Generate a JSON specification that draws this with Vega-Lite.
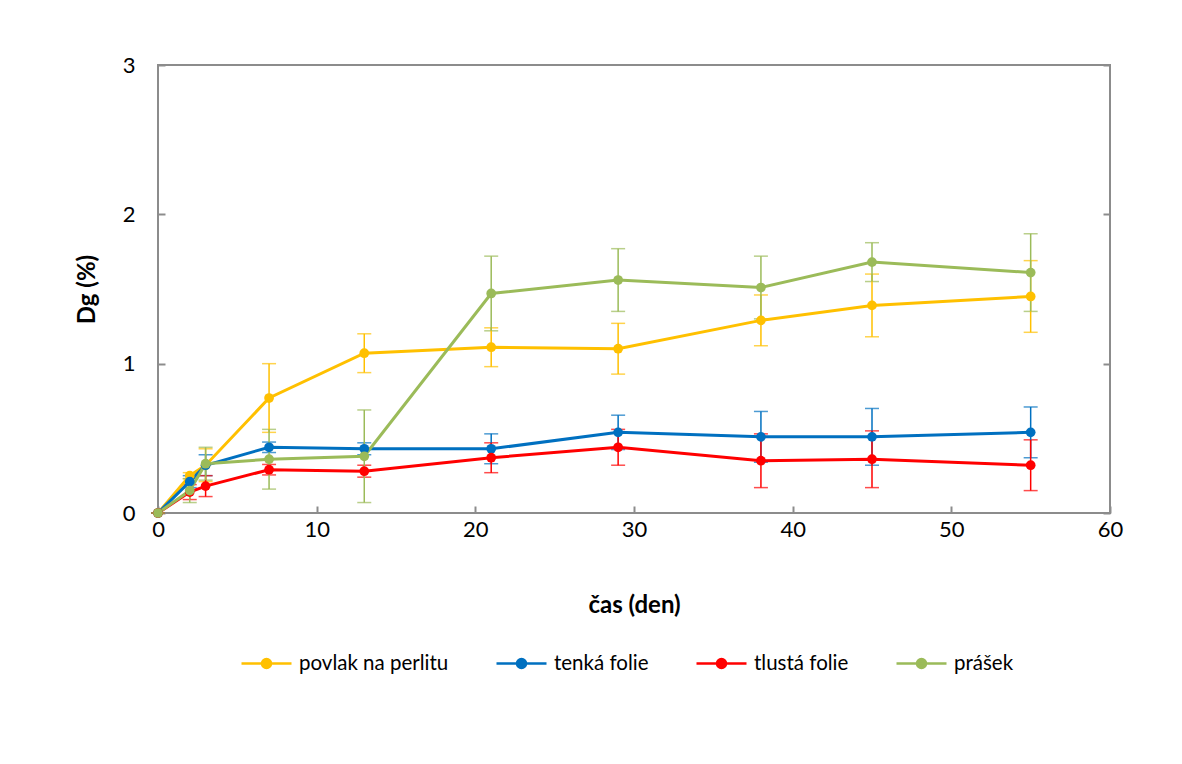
{
  "$schema": "https://vega.github.io/schema/vega-lite/v6.json",
  "width": 952,
  "height": 448,
  "autosize": {"type": "none"},
  "padding": {"left": 158, "top": 65, "right": 72, "bottom": 251},
  "background": "white",
  "config": {
    "font": "Lato",
    "view": {"stroke": "#8c8c8c", "strokeWidth": 2},
    "axis": {
      "grid": false,
      "domain": false,
      "tickColor": "#8c8c8c",
      "tickWidth": 2,
      "tickSize": -7,
      "labelColor": "#000000",
      "labelFontSize": 22,
      "labelFont": "Lato",
      "labelFlush": false,
      "titleFont": "Lato",
      "titleFontSize": 24,
      "titleFontWeight": "bold",
      "titleColor": "#000000"
    }
  },
  "data": {
    "values": [
      {"series": "povlak na perlitu", "x": 0, "y": 0, "err": 0},
      {"series": "povlak na perlitu", "x": 2, "y": 0.25, "err": 0.02},
      {"series": "povlak na perlitu", "x": 3, "y": 0.32, "err": 0.11},
      {"series": "povlak na perlitu", "x": 7, "y": 0.77, "err": 0.23},
      {"series": "povlak na perlitu", "x": 13, "y": 1.07, "err": 0.13},
      {"series": "povlak na perlitu", "x": 21, "y": 1.11, "err": 0.13},
      {"series": "povlak na perlitu", "x": 29, "y": 1.10, "err": 0.17},
      {"series": "povlak na perlitu", "x": 38, "y": 1.29, "err": 0.17},
      {"series": "povlak na perlitu", "x": 45, "y": 1.39, "err": 0.21},
      {"series": "povlak na perlitu", "x": 55, "y": 1.45, "err": 0.24},
      {"series": "tenká folie", "x": 0, "y": 0, "err": 0},
      {"series": "tenká folie", "x": 2, "y": 0.21, "err": 0.04},
      {"series": "tenká folie", "x": 3, "y": 0.32, "err": 0.07},
      {"series": "tenká folie", "x": 7, "y": 0.44, "err": 0.035},
      {"series": "tenká folie", "x": 13, "y": 0.43, "err": 0.04},
      {"series": "tenká folie", "x": 21, "y": 0.43, "err": 0.1},
      {"series": "tenká folie", "x": 29, "y": 0.54, "err": 0.115},
      {"series": "tenká folie", "x": 38, "y": 0.51, "err": 0.17},
      {"series": "tenká folie", "x": 45, "y": 0.51, "err": 0.19},
      {"series": "tenká folie", "x": 55, "y": 0.54, "err": 0.17},
      {"series": "tlustá folie", "x": 0, "y": 0, "err": 0},
      {"series": "tlustá folie", "x": 2, "y": 0.14, "err": 0.05},
      {"series": "tlustá folie", "x": 3, "y": 0.18, "err": 0.07},
      {"series": "tlustá folie", "x": 7, "y": 0.29, "err": 0.035},
      {"series": "tlustá folie", "x": 13, "y": 0.28, "err": 0.04},
      {"series": "tlustá folie", "x": 21, "y": 0.37, "err": 0.1},
      {"series": "tlustá folie", "x": 29, "y": 0.44, "err": 0.12},
      {"series": "tlustá folie", "x": 38, "y": 0.35, "err": 0.18},
      {"series": "tlustá folie", "x": 45, "y": 0.36, "err": 0.19},
      {"series": "tlustá folie", "x": 55, "y": 0.32, "err": 0.17},
      {"series": "prášek", "x": 0, "y": 0, "err": 0},
      {"series": "prášek", "x": 2, "y": 0.15, "err": 0.08},
      {"series": "prášek", "x": 3, "y": 0.33, "err": 0.11},
      {"series": "prášek", "x": 7, "y": 0.36, "err": 0.2},
      {"series": "prášek", "x": 13, "y": 0.38, "err": 0.31},
      {"series": "prášek", "x": 21, "y": 1.47, "err": 0.25},
      {"series": "prášek", "x": 29, "y": 1.56, "err": 0.21},
      {"series": "prášek", "x": 38, "y": 1.51, "err": 0.21},
      {"series": "prášek", "x": 45, "y": 1.68, "err": 0.13},
      {"series": "prášek", "x": 55, "y": 1.61, "err": 0.26}
    ]
  },
  "layer": [
    {
      "mark": {"type": "errorbar", "ticks": {"size": 14, "thickness": 1.5}, "thickness": 1.5},
      "encoding": {
        "x": {"field": "x", "type": "quantitative", "scale": {"domain": [0, 60], "nice": false},
              "axis": {"values": [0, 10, 20, 30, 40, 50, 60], "labelPadding": 13, "title": "čas (den)", "titlePadding": 53}},
        "y": {"field": "y", "type": "quantitative", "scale": {"domain": [0, 3], "nice": false},
              "axis": {"values": [0, 1, 2, 3], "labelPadding": 30, "title": "Dg (%)", "titlePadding": 23}},
        "yError": {"field": "err"},
        "color": {"field": "series", "type": "nominal",
                  "scale": {"domain": ["povlak na perlitu", "tenká folie", "tlustá folie", "prášek"],
                            "range": ["#FFC000", "#0070C0", "#FF0000", "#9BBB59"]},
                  "legend": {
                    "title": null,
                    "orient": "none",
                    "direction": "horizontal",
                    "legendX": 82,
                    "legendY": 572,
                    "columnPadding": 42,
                    "labelFontSize": 20.5,
                    "labelFont": "Lato",
                    "labelColor": "#000000",
                    "labelOffset": 6,
                    "symbolSize": 2500,
                    "symbolType": "M-1,0H1M0.18,0A0.18,0.18 0 1,1 -0.18,0A0.18,0.18 0 1,1 0.18,0Z",
                    "symbolStrokeWidth": 2.5,
                    "encode": {
                      "symbols": {
                        "update": {
                          "fill": {"scale": "color", "field": "value"},
                          "stroke": {"scale": "color", "field": "value"},
                          "opacity": {"value": 1},
                          "fillOpacity": {"value": 1},
                          "strokeOpacity": {"value": 1}
                        }
                      }
                    }
                  }}
      }
    },
    {
      "mark": {"type": "line", "strokeWidth": 3},
      "encoding": {
        "x": {"field": "x", "type": "quantitative"},
        "y": {"field": "y", "type": "quantitative", "axis": null},
        "color": {"field": "series", "type": "nominal"}
      }
    },
    {
      "mark": {"type": "point", "filled": true, "size": 95, "opacity": 1},
      "encoding": {
        "x": {"field": "x", "type": "quantitative"},
        "y": {"field": "y", "type": "quantitative",
              "axis": {"orient": "right", "labels": false, "title": null, "values": [0, 1, 2, 3]}},
        "color": {"field": "series", "type": "nominal"}
      }
    }
  ],
  "resolve": {"axis": {"y": "independent"}}
}
